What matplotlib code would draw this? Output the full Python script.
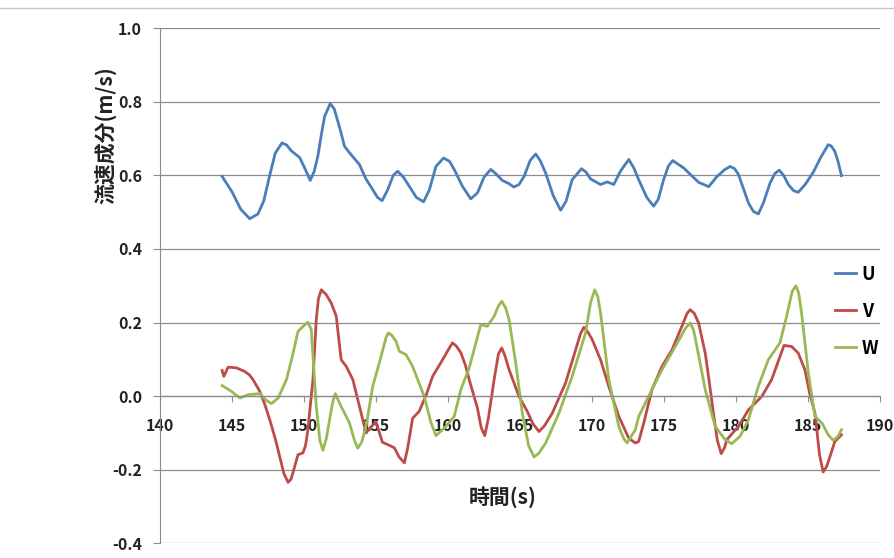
import matplotlib
matplotlib.use("Agg")
import matplotlib.pyplot as plt
from matplotlib.lines import Line2D

plt.rcParams["font.family"] = ["Noto Sans CJK JP", "DejaVu Sans"]

# 時間 (s) と流速成分 U
t_u = [144.31, 145.0, 145.6, 146.23, 146.8, 147.2, 147.6, 148.0, 148.47, 148.8,
       149.1, 149.7, 150.1, 150.43, 150.7, 150.96, 151.2, 151.43, 151.82, 152.1,
       152.47, 152.81, 153.16, 153.85, 154.3, 154.77, 155.1, 155.42, 155.8, 156.2,
       156.5, 156.9, 157.31, 157.8, 158.3, 158.7, 159.16, 159.69, 160.1, 160.43,
       161.0, 161.58, 162.04, 162.5, 162.97, 163.3, 163.77, 164.2, 164.58, 164.93,
       165.28, 165.7, 166.09, 166.4, 166.78, 167.3, 167.82, 168.2, 168.62, 169.27,
       169.6, 169.9, 170.59, 171.05, 171.51, 171.97, 172.55, 172.9, 173.24, 173.8,
       174.28, 174.6, 174.97, 175.3, 175.6, 176.36, 177.4, 178.1, 178.66, 179.2,
       179.59, 179.9, 180.17, 180.5, 180.86, 181.2, 181.55, 181.9, 182.36, 182.7,
       183.0, 183.3, 183.63, 184.0, 184.32, 184.8, 185.36, 185.9, 186.4, 186.6,
       186.86, 187.1, 187.32]
u = [0.597, 0.555, 0.508, 0.482, 0.495, 0.530, 0.597, 0.660, 0.688, 0.682,
     0.667, 0.648, 0.615, 0.586, 0.610, 0.652, 0.710, 0.760, 0.795, 0.780,
     0.730, 0.679, 0.661, 0.629, 0.590, 0.561, 0.540, 0.531, 0.560, 0.600,
     0.611, 0.595, 0.570, 0.540, 0.528, 0.560, 0.624, 0.647, 0.638, 0.616,
     0.570, 0.536, 0.552, 0.595, 0.616, 0.605, 0.586, 0.578, 0.568, 0.575,
     0.597, 0.640, 0.658, 0.640, 0.606, 0.545, 0.505, 0.530, 0.588, 0.618,
     0.608, 0.590, 0.575, 0.582, 0.575, 0.611, 0.643, 0.620, 0.588, 0.540,
     0.516, 0.535, 0.588, 0.625, 0.640, 0.620, 0.581, 0.569, 0.596, 0.615,
     0.624, 0.618, 0.602, 0.565, 0.525, 0.502, 0.495, 0.525, 0.579, 0.605,
     0.614, 0.600, 0.575, 0.558, 0.554, 0.575, 0.608, 0.650, 0.683, 0.680,
     0.665, 0.635, 0.599]

# 流速成分 V
t_v = [144.31, 144.43, 144.73, 145.31, 145.89, 146.2, 146.46, 146.93, 147.3, 147.62,
       148.0, 148.31, 148.6, 148.89, 149.1, 149.35, 149.58, 149.92, 150.1, 150.27,
       150.45, 150.62, 150.85, 151.0, 151.2, 151.54, 151.89, 152.24, 152.4, 152.58,
       152.93, 153.39, 153.85, 154.31, 154.6, 155.0, 155.2, 155.44, 155.9, 156.27,
       156.6, 156.97, 157.2, 157.54, 158.0, 158.5, 158.93, 159.62, 160.0, 160.31,
       160.6, 160.89, 161.2, 161.47, 162.04, 162.3, 162.55, 162.8, 163.2, 163.5,
       163.73, 163.95, 164.24, 164.93, 165.5, 165.9, 166.32, 166.7, 167.24, 168.16,
       168.86, 169.2, 169.43, 169.7, 170.01, 170.59, 171.16, 171.86, 172.55, 173.01,
       173.24, 173.59, 174.16, 174.86, 175.55, 176.24, 176.6, 176.82, 177.1, 177.4,
       177.86, 178.1, 178.43, 178.7, 178.97, 179.2, 179.36, 180.17, 180.86, 181.78,
       182.47, 183.33, 183.86, 184.32, 184.78, 185.1, 185.48, 185.8, 186.05, 186.3,
       186.52, 186.86, 187.32]
v = [0.070, 0.054, 0.079, 0.077, 0.067, 0.058, 0.045, 0.013, -0.025, -0.064,
     -0.115, -0.164, -0.210, -0.234, -0.225, -0.191, -0.159, -0.154, -0.135, -0.091,
     -0.020, 0.045, 0.208, 0.265, 0.289, 0.276, 0.253, 0.217, 0.160, 0.099,
     0.081, 0.045, -0.028, -0.100, -0.085, -0.070, -0.095, -0.125, -0.133, -0.140,
     -0.165, -0.181, -0.140, -0.060, -0.041, 0.005, 0.054, 0.099, 0.125, 0.145,
     0.135, 0.118, 0.085, 0.045, -0.032, -0.085, -0.107, -0.060, 0.045, 0.115,
     0.131, 0.110, 0.072, -0.001, -0.041, -0.075, -0.096, -0.080, -0.046, 0.036,
     0.126, 0.170, 0.187, 0.175, 0.154, 0.099, 0.027, -0.055, -0.114, -0.127,
     -0.123, -0.073, 0.018, 0.081, 0.126, 0.190, 0.225, 0.235, 0.225, 0.199,
     0.117, 0.050, -0.046, -0.120, -0.156, -0.140, -0.118, -0.082, -0.037, -0.001,
     0.045, 0.138, 0.135, 0.117, 0.072, 0.010, -0.046, -0.160, -0.206, -0.190,
     -0.164, -0.123, -0.105]

# 流速成分 W
t_w = [144.31, 144.96, 145.54, 146.12, 146.93, 147.4, 147.74, 148.2, 148.78, 149.2,
       149.58, 150.0, 150.27, 150.5, 150.85, 151.1, 151.31, 151.55, 151.77, 152.0,
       152.17, 152.58, 153.16, 153.5, 153.73, 154.0, 154.31, 154.77, 155.35, 155.7,
       155.86, 156.1, 156.39, 156.62, 157.08, 157.54, 158.35, 158.8, 159.16, 159.5,
       159.85, 160.43, 160.89, 161.47, 162.27, 162.73, 163.2, 163.5, 163.73, 164.0,
       164.24, 164.7, 165.16, 165.6, 165.97, 166.3, 166.78, 167.7, 168.62, 169.55,
       169.9, 170.19, 170.4, 170.59, 171.16, 171.86, 172.2, 172.43, 172.7, 173.01,
       173.24, 174.16, 174.86, 175.78, 176.5, 176.82, 177.05, 177.28, 177.86, 178.55,
       179.24, 179.7, 180.28, 180.86, 181.55, 182.24, 183.05, 183.51, 183.9, 184.16,
       184.35, 184.55, 185.02, 185.48, 186.0, 186.4, 186.75, 187.09, 187.32]
w = [0.029, 0.013, -0.005, 0.004, 0.007, -0.012, -0.020, -0.005, 0.045, 0.110,
     0.176, 0.192, 0.201, 0.181, -0.028, -0.120, -0.147, -0.115, -0.064, -0.015,
     0.007, -0.028, -0.073, -0.120, -0.141, -0.125, -0.082, 0.027, 0.108, 0.160,
     0.172, 0.165, 0.149, 0.122, 0.113, 0.081, -0.001, -0.070, -0.107, -0.095,
     -0.082, -0.055, 0.018, 0.077, 0.194, 0.190, 0.217, 0.245, 0.258, 0.240,
     0.208, 0.090, -0.046, -0.135, -0.165, -0.155, -0.127, -0.046, 0.054, 0.172,
     0.255, 0.289, 0.270, 0.226, 0.045, -0.082, -0.115, -0.127, -0.110, -0.091,
     -0.055, 0.018, 0.072, 0.135, 0.185, 0.199, 0.180, 0.135, 0.018, -0.082,
     -0.118, -0.129, -0.109, -0.064, 0.027, 0.099, 0.145, 0.217, 0.285, 0.300,
     0.280, 0.226, 0.063, -0.055, -0.075, -0.105, -0.120, -0.109, -0.091]

x_ticks = [140, 145, 150, 155, 160, 165, 170, 175, 180, 185, 190]
y_ticks = [-0.4, -0.2, 0.0, 0.2, 0.4, 0.6, 0.8, 1.0]

fig = plt.figure(figsize=(8.95, 5.58), dpi=100)
ax = fig.add_axes([0.1788, 0.026, 0.8045, 0.9238])

ax.plot(t_u, u, color="#4A7EBB", lw=2.0, solid_joinstyle="round", label="U")
ax.plot(t_v, v, color="#BE4B48", lw=2.0, solid_joinstyle="round", label="V")
ax.plot(t_w, w, color="#98B954", lw=2.0, solid_joinstyle="round", label="W")

# 軸線は y=0 の位置に (先に設定しないと目盛ラベルの書式が消える)
for s in ["top", "right"]:
    ax.spines[s].set_visible(False)
ax.spines["left"].set_color("#8c8c8c")
ax.spines["bottom"].set_position(("data", 0))
ax.spines["bottom"].set_color("#8c8c8c")
ax.spines["bottom"].set_linewidth(0.9)

ax.set_xlim(140, 190)
ax.set_ylim(-0.4, 1.0)
ax.set_xticks(x_ticks)
ax.set_yticks(y_ticks)
ax.set_xticklabels([str(x) for x in x_ticks])
ax.set_yticklabels([f"{y:.1f}" for y in y_ticks])
ax.tick_params(axis="x", direction="out", length=4, color="#8c8c8c", pad=12,
               labelsize=11.5, labelcolor="#222222")
ax.tick_params(axis="y", direction="out", length=5, color="#8c8c8c", pad=8,
               labelsize=11.5, labelcolor="#222222")
for lab in ax.get_xticklabels() + ax.get_yticklabels():
    lab.set_fontweight("bold")

ax.grid(axis="y", color="#8c8c8c", lw=0.9)
ax.set_axisbelow(True)

fig.text(105 / 895, 1 - 135 / 558, "流速成分(m/s)", rotation=90, fontsize=15,
         fontweight="bold", ha="center", va="center", color="#222222")
fig.text(503 / 895, 1 - 497 / 558, "時間(s)", fontsize=15, fontweight="bold",
         ha="center", va="center", color="#222222")

ax.legend(loc="upper left", bbox_to_anchor=(0.927, 0.555), frameon=False,
          prop={"weight": "bold", "size": 13}, handlelength=1.2,
          handletextpad=0.3, labelspacing=1.0, borderaxespad=0)

# 外枠 (上端)
fig.add_artist(Line2D([0, 1], [1 - 8 / 558, 1 - 8 / 558], color="#c8c8c8", lw=1,
                      transform=fig.transFigure))

fig.savefig("out.png", dpi=100)
